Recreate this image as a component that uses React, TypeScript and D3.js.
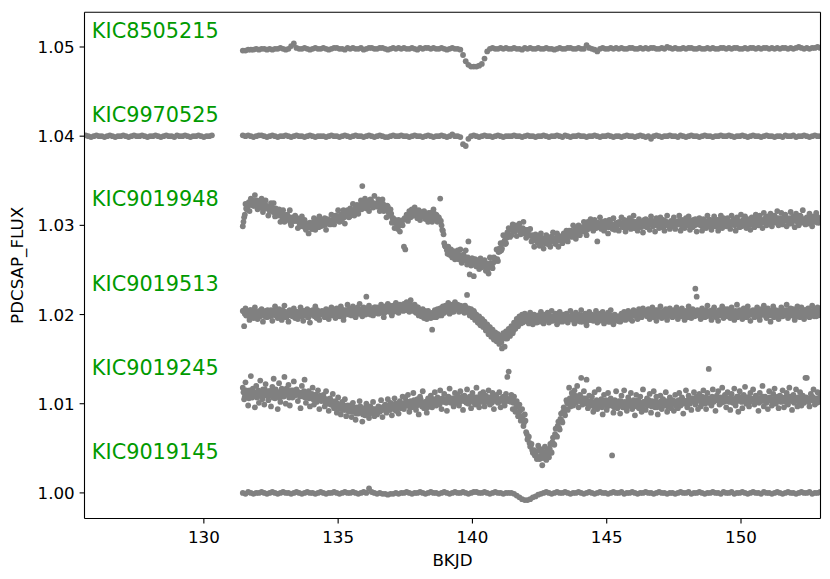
import React from 'react'
import * as d3 from 'd3'

// axis ticks
const xTicks = [130, 135, 140, 145, 150]
const yTicks = [1.0, 1.01, 1.02, 1.03, 1.04, 1.05]

// one light curve per target, stacked 0.01 apart
const targets = ['KIC8505215', 'KIC9970525', 'KIC9019948', 'KIC9019513', 'KIC9019245', 'KIC9019145']
const offsets = [1.05, 1.04, 1.03, 1.02, 1.01, 1.0]

// PDCSAP flux minus the target offset, in units of 1e-4.
// quiet stars: one sample every 0.1 d from 131.45
const kic8505215 = [
  -4,-4,-3,-3,-3,-2,-3,-2,-2,-3,
  -2,-3,-2,-2,-1,-2,-3,-2,1,4,
  -1,-2,-2,-1,-2,-3,-2,-1,-2,-2,
  -1,-2,-3,-2,-1,-1,-2,-2,-3,-1,
  -2,-1,-2,-2,-1,-3,-2,-1,-1,-2,
  -2,-1,-1,-2,-3,-2,-1,-2,-1,-2,
  -1,-2,-2,-1,-2,-3,-1,-2,-1,-1,
  -2,-1,-2,-2,-1,-2,-3,-2,-1,-2,
  -2,-3,-9,-16,-20,-22,-22,-22,-21,-19,
  -13,-5,-2,-1,-2,-2,-1,-2,-1,-2,
  -2,-1,-2,-2,-3,-1,-2,-1,-2,-2,
  -1,-2,-2,-1,-2,-2,-3,-2,-1,-2,
  -2,-1,-1,-2,-2,-1,-2,-2,2,-1,
  -2,-3,-5,-2,-1,-2,-2,-1,-2,-1,
  -2,-1,-2,-2,-1,-1,-2,-2,-1,-2,
  -1,-2,-1,-1,-2,-2,-1,-2,0,-1,
  -2,-1,-2,-2,-1,-2,-1,-1,-2,-2,
  -1,-2,-2,-1,-2,-1,-2,-2,-1,-1,
  -2,-1,-2,-1,-1,-2,-2,-1,-2,-1,
  -1,-2,-1,-2,-1,-1,-2,-1,-2,-1,
  -2,-1,-1,-2,-1,-2,-1,0,-1,-2,
  -1,-2,-1,-1,0,-1,
]

// KIC9970525 also has an early stretch from 125.5 to 130.3
const kic9970525Early = [
  0,1,0,-1,0,1,0,0,-1,0,
  1,0,-1,0,0,1,0,-1,0,1,
  0,0,1,0,-1,0,0,1,0,-1,
  0,1,0,0,-1,1,0,0,1,0,
  -1,0,0,1,0,-1,0,0,1,
]
const kic9970525 = [
  1,0,1,0,-1,0,1,1,0,-1,
  0,1,0,-1,0,0,1,0,-1,0,
  1,0,0,-1,0,1,0,-1,0,0,
  0,-1,0,1,0,0,-1,0,1,0,
  -1,0,1,0,0,-1,0,1,0,-1,
  0,1,0,-1,-1,0,1,0,0,1,
  0,0,-1,0,1,0,0,-1,0,1,
  0,-1,0,0,1,0,-1,0,2,0,
  0,-1,-9,-11,-3,0,1,0,-1,0,
  1,0,0,-1,0,1,0,-1,0,0,
  0,1,0,0,-1,0,1,0,0,-1,
  0,0,1,0,-1,0,0,1,0,-1,
  1,0,-1,0,0,1,0,0,-1,0,
  0,1,0,-1,0,0,1,0,-1,0,
  0,-1,0,1,0,0,-1,0,1,0,
  -1,0,-3,0,1,0,-1,0,0,1,
  0,0,-1,1,0,-1,0,1,0,0,
  -1,0,1,0,0,-1,0,0,1,0,
  0,1,0,-1,0,0,1,0,-1,0,
  1,0,0,-1,0,1,0,0,-1,0,
  0,-1,1,0,0,1,-1,0,0,1,
  0,-1,0,1,0,0,
]

const kic9019145 = [
  0,-1,1,0,-1,0,0,1,0,-1,
  0,1,0,-1,0,1,0,0,-1,0,
  1,0,-1,0,1,0,0,-1,0,1,
  0,-1,0,0,1,0,-1,0,1,0,
  0,1,0,-1,0,1,0,5,1,0,
  -1,0,-1,-1,-2,-1,-1,0,-1,0,
  0,1,0,-1,0,0,1,0,-1,0,
  1,0,0,-1,0,1,0,-1,0,1,
  0,0,1,0,-1,0,1,1,0,0,
  1,0,-1,0,1,0,0,-1,0,0,
  0,-1,-3,-5,-7,-8,-8,-7,-5,-4,
  -2,-1,0,1,0,-1,0,1,0,0,
  1,0,-1,0,0,1,0,-1,0,1,
  0,-1,0,1,0,0,-1,0,1,0,
  0,1,-1,0,0,1,0,-1,0,0,
  1,0,0,-1,0,1,0,0,-1,0,
  0,-1,0,1,0,0,1,-1,0,0,
  1,0,-1,0,0,1,0,0,-1,1,
  0,0,1,-1,0,0,1,0,-1,0,
  1,0,0,-1,1,0,0,-1,0,1,
  0,-1,0,1,0,0,-1,0,1,0,
  0,1,-1,0,0,1,
]

// noisier stars: two interleaved runs, each one sample every 0.05 d
// (run A from 131.45, run B from 131.475)
const kic9019948 = [
  -1,9,24,18,22,16,30,28,22,34,24,18,27,20,30,15,22,28,19,11,
  16,25,17,25,10,17,11,18,4,12,17,4,9,12,6,17,0,9,5,11,
  6,-3,7,-1,10,-1,6,-5,2,-9,3,0,-4,8,-5,6,0,10,-1,4,
  0,8,-5,7,5,1,12,5,1,11,8,17,4,12,7,17,2,13,17,9,
  19,12,24,11,20,23,13,22,28,44,21,30,19,27,16,29,24,20,33,23,
  21,29,16,24,29,16,20,9,21,12,18,3,8,-3,5,-1,6,-7,4,0,
  -24,-27,12,5,16,9,18,11,20,15,8,17,6,14,10,16,7,13,4,12,
  14,4,18,7,12,4,9,30,0,-6,-20,-24,-28,-24,-33,-27,-36,-29,-38,-31,
  -28,-38,-27,-42,-33,-39,-28,-44,-18,-55,-45,-37,-57,-38,-46,-40,-49,-37,-47,-41,
  -39,-51,-43,-54,-36,-46,-48,-36,-40,-27,-40,-26,-20,-26,-11,-17,-20,-8,-3,-13,
  -11,1,-7,0,-12,-1,2,-10,-4,4,-9,-14,-5,-11,-4,-18,-12,-24,-10,-16,
  -12,-23,-9,-20,-26,-15,-11,-21,-16,-24,-13,-8,-18,-21,-9,-24,-12,-15,-20,-9,
  -16,-6,-18,-6,-8,-13,0,-9,-15,-3,0,-11,-2,-5,4,-7,-11,4,-2,7,
  3,-6,6,-3,-18,2,9,-4,1,-6,5,-1,-9,6,2,-3,8,-5,0,3,
  -6,2,9,-2,6,-7,2,-1,8,-4,5,11,-3,1,-6,7,0,4,-8,6,
  7,-2,3,-5,10,5,0,-7,8,2,-3,9,-1,6,-6,4,11,1,-4,5,
  -1,9,-4,4,1,11,-6,6,2,-3,8,0,10,-5,5,-2,3,7,-7,4,
  8,0,-6,7,3,-3,11,-1,6,-5,5,10,-1,3,-6,6,11,-3,8,2,
  -1,8,4,-4,11,1,6,-6,9,5,-2,12,0,3,10,-3,7,2,-5,9,
  7,-2,12,3,0,11,5,-3,14,7,0,10,4,13,-1,7,11,3,16,0,
  4,14,1,9,12,-1,7,2,15,5,10,-2,13,8,0,11,3,17,6,1,
  9,2,13,5,-1,10,7,14,3,8,6,
]
const kic9019948B = [
  4,12,19,20,26,24,23,28,22,26,28,23,23,20,24,26,19,22,20,20,
  19,21,15,17,19,13,15,17,11,8,12,9,7,11,9,3,7,8,5,9,
  8,4,1,3,0,5,-3,0,2,-2,1,-4,3,0,1,3,-2,3,6,0,
  2,1,6,3,6,2,5,7,5,11,7,10,5,10,13,9,12,11,14,10,
  16,12,17,16,21,19,18,23,18,23,26,22,24,21,26,28,22,25,23,24,
  23,25,20,22,24,18,20,22,15,11,13,8,3,6,2,-4,0,3,1,6,
  8,7,7,12,11,17,11,14,16,12,14,9,15,11,12,13,8,12,14,8,
  10,8,13,8,11,5,6,5,-5,-10,-23,-24,-32,-30,-28,-34,-31,-34,-31,-37,
  -32,-38,-34,-37,-33,-37,-40,-36,-43,-39,-37,-42,-42,-45,-41,-39,-46,-43,-45,-45,
  -46,-44,-49,-46,-42,-46,-42,-37,-39,-38,-30,-29,-28,-20,-19,-21,-14,-10,-11,-5,
  -4,-6,-7,-4,-5,0,-7,-4,-3,-7,-5,-11,-6,-11,-12,-11,-17,-14,-12,-19,
  -17,-19,-14,-18,-15,-20,-17,-16,-19,-13,-17,-14,-20,-16,-12,-17,-14,-15,-12,-16,
  -10,-15,-10,-11,-6,-8,-10,-5,-10,-5,-2,-6,-4,-7,-1,1,-5,-1,-3,-1,
  -1,2,-3,0,3,-2,1,4,-1,-3,2,0,-2,3,1,-4,0,2,-1,3,
  4,1,-1,2,0,5,-2,1,3,-1,2,-3,4,0,1,3,-2,2,5,-1,
  2,0,5,1,4,-1,2,3,0,6,1,4,-2,2,5,0,3,1,4,-1,
  4,-1,3,1,5,2,0,4,-2,3,5,1,2,-1,4,6,0,3,1,2,
  1,4,-1,2,5,0,3,6,1,-1,5,3,1,6,4,-1,3,5,2,6,
  6,3,1,4,2,7,0,3,5,1,4,-1,6,2,3,5,0,4,7,1,
  4,2,7,3,6,2,5,6,3,9,4,8,2,6,9,4,7,5,8,3,
  8,3,7,5,9,6,4,8,2,7,9,5,6,3,8,10,4,7,5,6,
  5,8,3,6,9,4,7,10,5,3,8,
]

const kic9019513 = [
  4,-13,7,-1,2,-6,5,0,-4,8,1,-5,3,-2,6,-8,2,4,-3,1,
  -2,5,-7,3,9,-1,-4,6,0,-6,4,10,-3,2,-8,5,1,-2,7,-4,
  3,-5,1,8,-2,-7,4,0,6,-3,-9,2,5,-1,9,-4,3,-6,1,4,
  2,-3,6,0,-5,4,8,-1,3,-4,7,1,-2,9,2,-6,5,3,11,0,
  6,-1,9,3,-3,7,1,12,4,-2,8,2,20,6,10,0,5,-1,8,3,
  8,1,6,11,2,-3,9,5,12,3,7,-1,10,4,13,6,2,11,5,9,
  12,5,14,7,3,16,9,4,11,2,8,-1,5,-2,6,-4,3,-5,4,-1,
  -4,-17,-2,5,-3,6,-1,7,-1,9,2,10,4,13,1,8,11,3,14,6,
  11,3,10,4,9,2,8,22,7,-1,6,-3,4,-6,0,-9,-2,-12,-5,-14,
  -8,-18,-11,-22,-14,-25,-17,-28,-20,-30,-22,-33,-24,-38,-21,-36,-19,-27,-16,-24,
  -13,-21,-9,-16,-5,-13,-2,-10,0,-8,1,-7,-1,-10,2,-6,-11,0,-4,-9,
  -1,-8,3,-6,-10,0,-4,2,-9,-2,4,-7,-3,1,-11,-5,3,-2,-8,0,
  -6,1,-9,-2,4,-5,-1,-10,2,-7,0,-3,5,-8,-4,1,-12,-2,3,-6,
  0,-7,-2,4,-9,-3,1,-6,3,-10,-1,-5,2,-8,5,-4,-11,0,-3,-7,
  -2,-8,1,-5,3,-6,0,4,-4,2,-7,5,-1,3,-5,6,0,-3,7,1,
  4,-2,6,-5,2,8,-3,1,-7,5,0,9,-4,3,-1,6,-6,2,7,-2,
  -3,5,0,8,-5,3,-1,7,2,-6,4,-2,9,1,-4,6,0,29,20,3,
  2,-5,7,0,-3,5,10,-1,4,-6,3,8,-2,1,-7,5,2,9,-4,6,
  -1,6,3,-4,8,0,-6,4,11,-2,5,1,-5,7,2,-3,9,0,-7,4,
  5,-3,2,8,-1,-6,6,3,10,0,-4,7,1,-8,4,9,-2,5,0,-5,
  3,8,-2,5,0,11,-4,2,7,-1,6,-6,4,9,1,-3,8,2,-5,5,
  1,7,-3,4,10,0,6,-2,8,3,1,
]
const kic9019513B = [
  4,1,-1,2,0,5,-2,1,3,-1,2,-3,4,0,1,3,-2,2,5,-1,
  1,-1,4,0,3,-2,1,2,-1,5,0,3,-3,1,4,-1,2,0,3,-2,
  3,-2,2,0,4,1,-1,3,-3,2,4,0,1,-2,3,5,-1,2,0,1,
  0,3,-2,1,5,0,3,6,1,-1,4,3,1,6,4,-1,3,5,2,6,
  6,3,1,5,3,8,1,4,6,2,5,0,7,3,4,6,1,5,8,2,
  4,2,7,4,7,2,5,7,4,10,5,8,3,7,10,5,8,6,9,4,
  10,5,10,8,12,9,7,10,3,7,8,3,3,-1,3,4,-2,1,-1,0,
  -1,2,-3,0,4,-1,3,7,3,2,7,6,4,9,7,3,7,9,6,10,
  10,7,5,7,5,10,3,5,6,1,3,-3,2,-4,-4,-4,-10,-8,-6,-13,
  -13,-16,-13,-19,-17,-24,-22,-23,-27,-22,-28,-25,-31,-26,-23,-27,-22,-23,-18,-21,
  -14,-18,-12,-12,-7,-8,-9,-4,-9,-3,-1,-5,-4,-7,-2,0,-6,-3,-5,-4,
  -5,-2,-7,-4,-1,-6,-3,0,-5,-7,-2,-4,-6,-1,-3,-8,-4,-2,-5,-1,
  -1,-4,-6,-3,-5,0,-7,-4,-2,-6,-3,-8,-1,-5,-4,-2,-7,-3,0,-6,
  -4,-6,-1,-5,-2,-7,-4,-3,-6,0,-5,-2,-8,-4,-1,-6,-3,-5,-2,-7,
  -2,-7,-2,-4,0,-2,-4,0,-5,0,2,-1,0,-3,3,5,-1,2,0,1,
  0,3,-2,1,4,-1,2,5,0,-2,3,1,-1,4,2,-3,1,3,0,4,
  4,1,-1,2,0,5,-2,1,3,-1,2,-3,4,0,1,3,-2,2,5,-1,
  1,-1,4,0,3,-2,1,2,-1,5,0,3,-3,1,4,-1,2,0,3,-2,
  3,-2,2,0,4,1,-1,3,-3,2,4,0,1,-2,3,5,-1,2,0,1,
  0,3,-2,1,4,-1,2,5,0,-2,3,1,-1,4,2,-3,1,3,0,4,
  4,1,-1,2,0,5,-2,1,3,-1,2,-3,4,0,1,3,-2,2,5,-1,
  1,-1,4,0,3,-2,1,2,-1,5,0,
]

const kic9019245 = [
  18,5,24,9,-2,15,31,7,12,-4,20,13,1,26,8,16,-1,22,10,4,
  14,-3,19,28,6,11,-6,23,2,17,9,30,0,13,21,-2,15,7,25,10,
  16,3,12,-5,20,8,27,1,9,14,-3,6,18,-1,10,2,15,-6,7,4,
  10,-3,14,1,-8,6,-1,11,-5,3,-10,7,-4,-12,2,-7,5,-14,-2,-9,
  -2,-15,1,-9,-18,-4,-11,3,-7,-20,-5,-13,0,-8,-16,-3,-10,2,-14,-6,
  -12,-3,-9,4,-15,-6,-1,-10,5,-7,1,-13,-2,6,-8,0,-11,3,-5,8,
  -6,7,-2,10,-9,3,-4,12,1,-7,5,-12,8,-1,14,-5,2,-10,6,-3,
  9,-4,5,13,-2,7,0,15,-6,4,11,2,-8,8,17,1,6,-3,12,5,
  10,-2,14,6,-7,9,3,16,0,8,-5,12,4,-1,18,7,-4,11,2,13,
  -3,9,5,15,-1,7,12,-6,4,10,1,13,-4,6,8,-2,11,30,36,3,
  10,-6,8,-9,3,-14,-1,-19,-6,-25,-12,-32,-40,-37,-48,-45,-55,-52,-58,-62,
  -47,-62,-51,-69,-54,-48,-63,-52,-60,-45,-55,-38,-46,-28,-37,-20,-29,-11,-21,-4,
  -13,4,-7,18,-3,12,-2,15,1,20,-4,10,29,-1,14,6,27,-5,9,-2,
  8,-9,13,2,-6,16,-3,5,-12,10,0,-7,12,-1,6,-58,-10,4,14,-5,
  3,-11,9,-4,15,1,-8,7,-2,12,-6,4,-13,10,0,-5,8,-9,16,2,
  -7,6,-1,11,-10,3,14,-4,8,-12,1,9,-6,5,-2,13,-9,2,7,-5,
  4,-8,10,1,-5,12,-2,7,-11,3,15,-4,9,0,-7,6,13,-1,8,-6,
  11,-3,8,15,0,-6,12,39,5,-2,16,3,-8,9,14,-1,7,18,2,10,
  -4,13,6,-7,11,1,17,-2,8,-9,14,4,-5,10,19,0,7,-3,12,5,
  16,-1,9,3,-8,12,6,20,-3,8,1,-6,14,5,-2,11,17,0,7,-5,
  9,2,15,-4,7,12,-1,18,4,-7,10,3,16,-3,6,13,-2,9,1,29,
  29,5,-3,11,8,16,-1,6,13,2,9,
]
const kic9019245B = [
  13,8,15,10,6,14,11,17,9,12,7,15,10,13,5,12,16,9,11,14,
  9,14,7,12,16,10,13,6,11,15,8,12,17,10,7,13,11,15,9,12,
  11,13,8,12,9,14,7,10,12,6,9,11,5,8,10,4,7,9,3,6,
  6,2,5,0,4,-1,3,-2,1,-4,0,-3,-6,-1,-5,-2,-7,-4,-6,-3,
  -5,-9,-4,-8,-11,-6,-9,-3,-8,-12,-6,-10,-4,-7,-11,-5,-9,-6,-10,-7,
  -9,-5,-8,-4,-7,-3,-6,-2,-5,-7,-1,-4,-6,0,-3,-5,1,-2,-4,0,
  -2,3,-1,2,-4,1,-3,4,0,-2,3,-1,5,-3,1,-2,2,-4,3,0,
  3,0,4,1,5,2,-1,4,6,2,5,1,3,7,2,5,3,6,1,4,
  6,2,5,8,3,7,1,4,6,3,8,2,5,7,4,1,6,3,7,5,
  2,6,3,7,4,1,5,8,3,6,2,5,4,7,1,4,6,3,5,2,
  5,1,2,-4,-3,-10,-8,-15,-14,-21,-19,-34,-38,-44,-47,-52,-55,-58,-54,-60,
  -52,-59,-54,-61,-56,-60,-53,-58,-50,-54,-43,-45,-34,-36,-25,-27,-17,-19,-9,-11,
  -6,1,0,6,2,8,3,9,4,7,3,8,2,6,1,5,0,3,-1,2,
  2,-3,1,4,-2,0,3,-4,2,-1,4,-3,1,3,-2,0,-4,2,1,-1,
  -2,3,0,-4,2,1,-3,4,-1,2,-2,3,0,-3,4,1,-1,-4,2,0,
  1,-2,4,0,-3,2,-1,3,-4,1,2,-2,4,-1,0,3,-3,1,-2,2,
  0,3,-2,1,4,-1,2,5,0,3,1,4,2,5,3,6,2,4,3,5,
  6,2,5,3,7,4,1,6,3,8,2,5,4,7,3,6,1,5,4,7,
  3,6,2,7,4,5,1,6,3,8,4,2,6,5,3,7,4,2,6,5,
  5,2,7,4,1,6,3,8,5,2,6,4,7,3,5,1,6,4,8,3,
  4,7,3,5,2,6,4,8,3,5,1,6,4,7,2,5,3,6,4,7,
  5,2,6,4,7,3,5,1,6,4,5,
]

// sampling of each stretch: target index, first BKJD, step in days
const segments = [
  { target: 0, t0: 131.45, step: 0.1, dev: kic8505215 },
  { target: 1, t0: 125.5, step: 0.1, dev: kic9970525Early },
  { target: 1, t0: 131.45, step: 0.1, dev: kic9970525 },
  { target: 2, t0: 131.45, step: 0.05, dev: kic9019948 },
  { target: 2, t0: 131.475, step: 0.05, dev: kic9019948B },
  { target: 3, t0: 131.45, step: 0.05, dev: kic9019513 },
  { target: 3, t0: 131.475, step: 0.05, dev: kic9019513B },
  { target: 4, t0: 131.45, step: 0.05, dev: kic9019245 },
  { target: 4, t0: 131.475, step: 0.05, dev: kic9019245B },
  { target: 5, t0: 131.45, step: 0.1, dev: kic9019145 },
]

const W = 830
const H = 579
const plot = { left: 84.5, right: 820.5, top: 12.3, bottom: 518.5 }
const FONT = '"DejaVu Sans", sans-serif'
const DOT = '#808080'
const LABEL_GREEN = '#009a00'

export default function App() {
  const x = d3.scaleLinear().domain([125.556, 152.96]).range([plot.left, plot.right])
  const y = d3.scaleLinear().domain([0.99713, 1.05389]).range([plot.bottom, plot.top])
  // target names sit in axes coordinates
  const ax = d3.scaleLinear().domain([0, 1]).range([plot.left, plot.right])
  const ay = d3.scaleLinear().domain([0, 1]).range([plot.bottom, plot.top])

  const points = segments.flatMap((s) =>
    s.dev.map((d, i) => ({ t: s.t0 + i * s.step, f: offsets[s.target] + d * 1e-4 }))
  )

  return (
    <svg width={W} height={H} style={{ position: 'absolute', left: 0, top: 0, background: '#fff' }}
      fontFamily={FONT}>
      <defs>
        <clipPath id="plot-area">
          <rect x={plot.left} y={plot.top} width={plot.right - plot.left} height={plot.bottom - plot.top} />
        </clipPath>
      </defs>

      <g clipPath="url(#plot-area)">
        {points.map((p, i) => (
          <circle key={i} cx={x(p.t)} cy={y(p.f)} r={2.9} fill={DOT} />
        ))}
      </g>

      {targets.map((name, i) => (
        <text key={name} x={ax(0.01)} y={ay(0.95 - i / 6)} fontSize={20.8} fill={LABEL_GREEN}>
          {name}
        </text>
      ))}

      {/* spines */}
      <g stroke="#000" strokeWidth={1.1} fill="none">
        <line x1={plot.left} x2={plot.left} y1={plot.top} y2={plot.bottom} />
        <line x1={plot.right} x2={plot.right} y1={plot.top} y2={plot.bottom} />
        <line x1={plot.left} x2={plot.right} y1={plot.top} y2={plot.top} />
        <line x1={plot.left} x2={plot.right} y1={plot.bottom} y2={plot.bottom} />
      </g>

      {xTicks.map((t) => (
        <g key={t} transform={`translate(${x(t)},${plot.bottom})`}>
          <line y2={4.9} stroke="#000" strokeWidth={1.1} />
          <text y={24} textAnchor="middle" fontSize={16.7} fill="#000">{t}</text>
        </g>
      ))}
      {yTicks.map((t) => (
        <g key={t} transform={`translate(${plot.left},${y(t)})`}>
          <line x2={-4.9} stroke="#000" strokeWidth={1.1} />
          <text x={-9.8} dy="0.365em" textAnchor="end" fontSize={16.7} fill="#000">{d3.format('.2f')(t)}</text>
        </g>
      ))}

      <text x={(plot.left + plot.right) / 2} y={566} textAnchor="middle" fontSize={16.7} fill="#000">BKJD</text>
      <text transform={`translate(23,${(plot.top + plot.bottom) / 2}) rotate(-90)`} textAnchor="middle"
        fontSize={16.7} fill="#000">PDCSAP_FLUX</text>
    </svg>
  )
}
